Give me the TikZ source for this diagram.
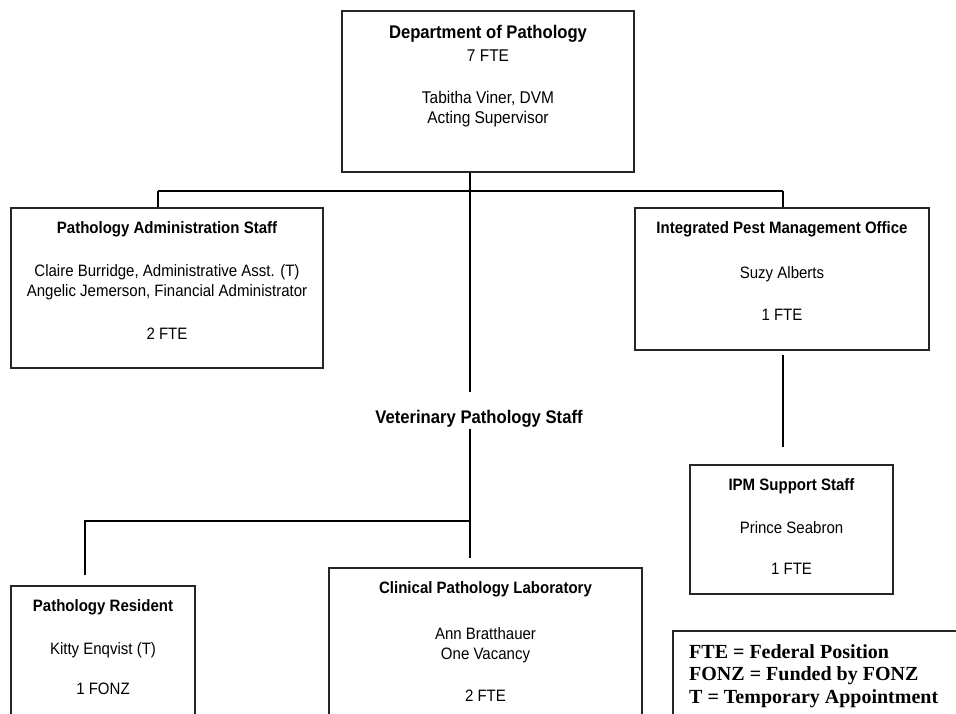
\documentclass[tikz,border=0pt]{standalone}
\usepackage{fontspec}
\setmainfont{Liberation Sans}[FakeStretch=0.91]
\newfontfamily\legendfont{Liberation Serif}
\begin{document}
\begin{tikzpicture}[x=1pt,y=-1pt,
  orgbox/.style={draw=black!85, line width=1.3pt, inner sep=0pt},
  ttl/.style={font=\fontsize{16.5}{19}\selectfont\bfseries, anchor=base, inner sep=0pt},
  txt/.style={font=\fontsize{16.5}{19}\selectfont, anchor=base, inner sep=0pt},
  bigttl/.style={font=\fontsize{18.3}{21}\selectfont\bfseries, anchor=base, inner sep=0pt},
  toptxt/.style={font=\fontsize{17}{20}\selectfont, anchor=base, inner sep=0pt},
  leg/.style={font=\legendfont\fontsize{20}{23}\selectfont\bfseries, anchor=base west, inner sep=0pt},
  conn/.style={line width=1.5pt, black}]
\useasboundingbox (0,0) rectangle (956,713);
\clip (0,0) rectangle (956,713);
\fill[white] (0,0) rectangle (956,713);

% boxes
\node[orgbox, minimum width=292pt, minimum height=161pt] (top) at (488,91.5) {};
\node[orgbox, minimum width=312pt, minimum height=160pt] (admin) at (167,288) {};
\node[orgbox, minimum width=294pt, minimum height=142pt] (ipm) at (782,279) {};
\node[orgbox, minimum width=203pt, minimum height=129pt] (ipmsup) at (791.5,529.5) {};
\node[orgbox, minimum width=184pt, minimum height=140pt] (res) at (103,656) {};
\node[orgbox, minimum width=313pt, minimum height=158pt] (clin) at (485.5,647) {};
\node[orgbox, minimum width=295pt, minimum height=95pt] (legend) at (820.5,678.5) {};

% top box text
\node[bigttl] (dept) at (488,38.5) {Department of Pathology};
\node[toptxt] (deptfte) at (488,61) {7 FTE};
\node[toptxt] (tab) at (488,103) {Tabitha Viner, DVM};
\node[toptxt] (acting) at (488,123) {Acting Supervisor};

% admin box
\node[ttl] (admint) at (167,233) {Pathology Administration Staff};
\node[txt] (claire) at (167,276) {Claire Burridge, Administrative Asst. (T)};
\node[txt] (angelic) at (167,296) {Angelic Jemerson, Financial Administrator};
\node[txt] (adminfte) at (167,339) {2 FTE};

% IPM office
\node[ttl] (ipmt) at (782,233) {Integrated Pest Management Office};
\node[txt] (suzy) at (782,278) {Suzy Alberts};
\node[txt] (ipmfte) at (782,320) {1 FTE};

% IPM support
\node[ttl] (ipmsupt) at (791.5,490) {IPM Support Staff};
\node[txt] (prince) at (791.5,533) {Prince Seabron};
\node[txt] (ipmsupfte) at (791.5,574) {1 FTE};

% vet label
\node[bigttl] (vet) at (479,423.5) {Veterinary Pathology Staff};

% resident
\node[ttl] (rest) at (103,611) {Pathology Resident};
\node[txt] (kitty) at (103,654) {Kitty Enqvist (T)};
\node[txt] (resfonz) at (103,694) {1 FONZ};

% clinical
\node[ttl] (clint) at (485.5,593) {Clinical Pathology Laboratory};
\node[txt] (ann) at (485.5,639) {Ann Bratthauer};
\node[txt] (vac) at (485.5,659) {One Vacancy};
\node[txt] (clinfte) at (485.5,701) {2 FTE};

% legend
\node[leg] (leg1) at (689,658) {FTE = Federal Position};
\node[leg] (leg2) at (689,680.5) {FONZ = Funded by FONZ};
\node[leg] (leg3) at (689,703) {T = Temporary Appointment};

% connector coordinates
\coordinate (j0) at (470,191);
\coordinate (hl) at (158,191);
\coordinate (hr) at (783,191);
\coordinate (va) at (470,392);
\coordinate (vb) at (470,429);
\coordinate (jb) at (470,521);
\coordinate (jc) at (470,558);
\coordinate (rl) at (85,521);
\coordinate (rle) at (85,575);
\coordinate (ia) at (783,355);
\coordinate (ib) at (783,447);

\draw[conn] (top.south -| j0) -- (va);
\draw[conn] (hl) -- (hr);
\draw[conn] (hl) -- (admin.north -| hl);
\draw[conn] (hr) -- (ipm.north -| hr);
\draw[conn] (vb) -- (jc);
\draw[conn] (jb) -- (rl) -- (rle);
\draw[conn] (ia) -- (ib);
\end{tikzpicture}
\end{document}
